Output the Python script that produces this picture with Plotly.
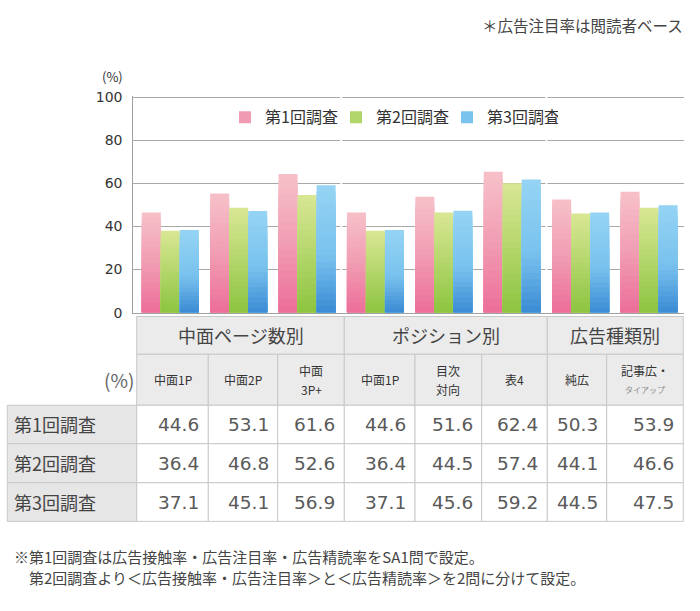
import plotly.graph_objects as go

# --- dados ---------------------------------------------------------------
series_names = ["第1回調査", "第2回調査", "第3回調査"]

group_labels = ["中面ページ数別", "ポジション別", "広告種類別"]
group_sizes = [3, 3, 2]

sub_labels = ["中面1P", "中面2P", "中面<br>3P+", "中面1P", "目次<br>対向", "表4", "純広",
              "記事広・<br><span style='font-size:8px;color:#8a8a8a'>タイアップ</span>"]

# altura das barras
bar_1 = [46.4, 55.2, 64.3, 46.4, 53.7, 65.3, 52.5, 56.1]
bar_2 = [38.0, 48.6, 54.6, 38.0, 46.4, 60.0, 46.0, 48.6]
bar_3 = [38.3, 47.1, 59.1, 38.3, 47.3, 61.8, 46.4, 49.8]

# valores da tabela
tbl_1 = ["44.6", "53.1", "61.6", "44.6", "51.6", "62.4", "50.3", "53.9"]
tbl_2 = ["36.4", "46.8", "52.6", "36.4", "44.5", "57.4", "44.1", "46.6"]
tbl_3 = ["37.1", "45.1", "56.9", "37.1", "45.6", "59.2", "44.5", "47.5"]

y_ticks = [0, 20, 40, 60, 80, 100]

# --- cores ---------------------------------------------------------------
# (posicao relativa na barra, cor) -> degrade de baixo pra cima
grad_pink = [(0.0, "#ec6e99"), (0.5, "#f19db3"), (1.0, "#f6c1c9")]
grad_green = [(0.0, "#8cc43f"), (0.5, "#b4d66c"), (1.0, "#d9e794")]
grad_blue = [(0.0, "#3b8bd4"), (0.45, "#79c2ee"), (1.0, "#95d4f4")]

W, H = 700, 611


def px(x):
    return x / W


def py(y):
    return 1 - y / H


def mix(stops, t):
    for (t0, c0), (t1, c1) in zip(stops[:-1], stops[1:]):
        if t <= t1:
            f = (t - t0) / (t1 - t0)
            a = [int(c0[i:i + 2], 16) for i in (1, 3, 5)]
            b = [int(c1[i:i + 2], 16) for i in (1, 3, 5)]
            return "rgb(%d,%d,%d)" % tuple(round(a[k] + (b[k] - a[k]) * f) for k in range(3))
    return stops[-1][1]


fig = go.Figure()

# degrade: barras sobrepostas, da mais alta (cor do topo) pra mais baixa (cor da base)
N = 20
bar_w = 0.278
offsets = [-0.417, -0.139, 0.139]
xs = list(range(len(sub_labels)))

for name, vals, grad, off in zip(series_names, [bar_1, bar_2, bar_3],
                                 [grad_pink, grad_green, grad_blue], offsets):
    for k in range(N):
        frac = (N - k) / N
        fig.add_trace(go.Bar(
            x=xs, y=[v * frac for v in vals],
            offset=off, width=bar_w,
            marker=dict(color=mix(grad, frac - 0.5 / N), line=dict(width=0)),
            name=name, legendgroup=name, showlegend=(k == N // 2),
            hoverinfo="skip",
        ))

# pequenas quebras brancas nas linhas de grade entre os grupos
shapes = []
edge = -0.5
for n in group_sizes[:-1]:
    edge += n
    shapes.append(dict(type="line", xref="x", yref="y", x0=edge, x1=edge, y0=0.3, y1=100.5,
                       line=dict(color="white", width=2), layer="between"))

# --- tabela (desenhada com shapes + anotacoes) -----------------------------
col_edges = [7.3, 136.7, 208.3, 277.7, 344.3, 415, 481.7, 547.3, 606.7, 683.3]
row_edges = [317.3, 356, 408.3, 447.7, 487.7, 527.3]
cor_borda = "#c8c8c8"
cor_head = "#ebebeb"
cor_label = "#e6e6e6"


def cell(x0, x1, y0, y1, fill):
    shapes.append(dict(type="rect", xref="paper", yref="paper",
                       x0=px(x0), x1=px(x1), y0=py(y1), y1=py(y0),
                       fillcolor=fill, line=dict(color=cor_borda, width=1), layer="above"))


annotations = []


def txt(text, x, y, size, color="#444", anchor="center", family="Noto Sans CJK JP"):
    annotations.append(dict(text=text, x=px(x), y=py(y), xref="paper", yref="paper",
                            xanchor=anchor, yanchor="middle", showarrow=False,
                            font=dict(size=size, color=color, family=family)))


# linha 1: grupos
c = 1
for lab, n in zip(group_labels, group_sizes):
    cell(col_edges[c], col_edges[c + n], row_edges[0], row_edges[1], cor_head)
    txt(lab, (col_edges[c] + col_edges[c + n]) / 2, (row_edges[0] + row_edges[1]) / 2, 18)
    c += n

# linha 2: subcategorias
ym = (row_edges[1] + row_edges[2]) / 2
for i, lab in enumerate(sub_labels):
    cell(col_edges[i + 1], col_edges[i + 2], row_edges[1], row_edges[2], cor_head)
    xm = (col_edges[i + 1] + col_edges[i + 2]) / 2
    partes = lab.split("<br>")
    if len(partes) == 1:
        txt(lab, xm, ym, 12, "#333")
    else:
        txt(partes[0], xm, ym - 10, 12, "#333")
        txt(partes[1], xm, ym + 10, 12, "#333")
txt("(%)", 136, ym, 19, "#666", anchor="right")

# linhas de dados
for r, (nome, vals) in enumerate(zip(series_names, [tbl_1, tbl_2, tbl_3])):
    y0, y1 = row_edges[r + 2], row_edges[r + 3]
    cell(col_edges[0], col_edges[1], y0, y1, cor_label)
    txt(nome, 12, (y0 + y1) / 2, 18, "#444", anchor="left")
    for i, v in enumerate(vals):
        cell(col_edges[i + 1], col_edges[i + 2], y0, y1, "white")
        txt(v, col_edges[i + 2] - 7, (y0 + y1) / 2, 18.5, "#5a5a5a", anchor="right", family="DejaVu Sans")

# textos soltos
txt("(%)", 125, 71, 13, "#333", anchor="right")
txt("＊広告注目率は閲読者ベース", 685, 18, 15.5, "#444", anchor="right")
txt("※第1回調査は広告接触率・広告注目率・広告精読率をSA1問で設定。", 12, 563, 15, "#444", anchor="left")
txt("第2回調査より＜広告接触率・広告注目率＞と＜広告精読率＞を2問に分けて設定。", 27, 585, 15, "#444", anchor="left")

fig.update_layout(
    width=W, height=H, autosize=False,
    margin=dict(l=0, r=0, t=0, b=0),
    paper_bgcolor="white", plot_bgcolor="white",
    barmode="overlay",
    font=dict(family="Noto Sans CJK JP", color="#333"),
    xaxis=dict(
        domain=[px(133.3), px(683.5)], range=[-0.541, 7.504],
        showticklabels=False, showgrid=False, zeroline=False,
        showline=True, linecolor="#a0a0a0", linewidth=1, ticks="",
    ),
    yaxis=dict(
        domain=[py(313.3), py(91.2)], range=[0, 100.5],
        tickvals=y_ticks, ticks="", ticklabelstandoff=7,
        tickfont=dict(size=14, color="#333", family="DejaVu Sans"),
        showgrid=True, gridcolor="#a8a8a8", gridwidth=1, zeroline=False,
        showline=True, linecolor="#a0a0a0", linewidth=1,
    ),
    legend=dict(
        orientation="h", x=px(225), xanchor="left", y=py(113), yanchor="middle",
        bgcolor="rgba(0,0,0,0)", font=dict(size=16, color="#333"),
        traceorder="normal", entrywidth=66, entrywidthmode="pixels",
    ),
    shapes=shapes,
    annotations=annotations,
)

# tira a margem padrao do <body> pra figura ficar no canto da janela
fig.write_html("out.html", config={"displayModeBar": False},
               post_script="document.body.style.margin='0';")
